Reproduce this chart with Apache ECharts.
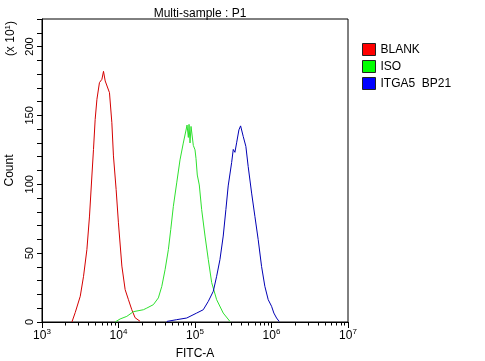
<!DOCTYPE html>
<html><head><meta charset="utf-8">
<script src="https://cdn.jsdelivr.net/npm/echarts@6/dist/echarts.min.js"></script>
<style>html,body{margin:0;padding:0;background:#fff}#c{width:485px;height:361px}</style>
</head><body><div id="c"></div>
<script>
// x values are log10(FITC-A); y values are Count (x10^1)
const blankX = [3.391,3.434,3.500,3.543,3.587,3.621,3.652,3.673,3.695,3.718,3.751,3.783,3.804,3.826,3.882,3.913,3.934,3.969,3.999,4.044,4.087,4.130,4.174,4.217,4.282];
const blankY = [0,6.8,18.7,33.2,52.6,76.9,106,125.3,147.1,161.7,173.8,176.2,182,175,166.5,144.7,120.6,96.2,72,40.6,23.5,16.2,8.9,3.1,0.5];
const isoX = [3.956,4.021,4.109,4.195,4.325,4.370,4.456,4.521,4.566,4.609,4.652,4.683,4.717,4.761,4.804,4.847,4.883,4.896,4.913,4.922,4.935,4.948,4.978,5.000,5.013,5.030,5.056,5.087,5.131,5.174,5.218,5.283,5.369,5.457];
const isoY = [0,2.2,4.1,7.5,8.9,10.1,12.6,17.5,25.9,38,52.6,67.1,84,101,117.7,129.9,139.4,143,134,143.5,130,142,128.2,125,118.8,106.7,99.5,81.7,62.4,45.3,28.6,16.2,6.5,0.4];
const itgaX = [4.631,4.761,4.892,5.022,5.108,5.174,5.239,5.283,5.326,5.369,5.404,5.434,5.479,5.500,5.522,5.544,5.574,5.596,5.630,5.665,5.695,5.740,5.783,5.826,5.870,5.913,5.957,6.001,6.031,6.066,6.100];
const itgaY = [0.4,1.7,2.9,6.5,8.9,15,22.3,33.2,45.3,62.4,81.7,98.8,115.8,125.3,123.2,130.1,139.5,142.4,134.8,127.5,113,93.6,76.7,59.8,40.4,25.9,16.2,11.4,6.5,2.9,0.4];
const seriesNames = ['BLANK','ISO','ITGA5  BP21'];
const decades = [3,4,5,6,7];
const minorMult = [2,3,4,5,6,7,8,9];

const pair = (xs, ys) => xs.map((x, i) => [x, ys[i]]);
const minorTicks = [];
decades.slice(0, -1).forEach(d => minorMult.forEach(m => minorTicks.push([d + Math.log10(m), 0])));

const FONT = 'Liberation Sans, Arial, sans-serif';
const chart = echarts.init(document.getElementById('c'));
chart.setOption({
  animation: false,
  textStyle: { fontFamily: FONT, color: '#000' },
  title: { text: 'Multi-sample : P1', left: 195, top: 3, textAlign: 'center',
    textStyle: { fontFamily: FONT, fontSize: 12, fontWeight: 'normal', color: '#000' } },
  grid: { left: 42, top: 19, right: 137, bottom: 39, containLabel: false, outerBoundsMode: 'none',
    show: true, borderColor: '#000', borderWidth: 1, backgroundColor: 'transparent' },
  legend: {
    orient: 'vertical', left: 357, top: 38, itemWidth: 13, itemHeight: 12, itemGap: 4, icon: 'rect',
    textStyle: { fontFamily: FONT, fontSize: 12, color: '#000' },
    data: [
      { name: seriesNames[0], itemStyle: { color: '#ff0000', borderColor: '#222', borderWidth: 1 } },
      { name: seriesNames[1], itemStyle: { color: '#00ff00', borderColor: '#222', borderWidth: 1 } },
      { name: seriesNames[2], itemStyle: { color: '#0000ff', borderColor: '#222', borderWidth: 1 } }
    ]
  },
  xAxis: {
    type: 'value', min: 3, max: 7, interval: 1,
    name: 'FITC-A', nameLocation: 'middle', nameGap: 26,
    nameTextStyle: { fontFamily: FONT, fontSize: 12, color: '#000' },
    axisLine: { onZero: false, lineStyle: { color: '#000', width: 1 } },
    axisTick: { length: 6, lineStyle: { color: '#000' } },
    splitLine: { show: false },
    axisLabel: { margin: 6, color: '#000', formatter: v => '{b|10}{s|' + v + '}',
      rich: { b: { fontSize: 12, fontFamily: FONT, color: '#000' }, s: { fontSize: 8, fontFamily: FONT, color: '#000', padding: [0,0,8,0] } } }
  },
  yAxis: {
    type: 'value', min: 0, max: 220, interval: 10,
    name: 'Count', nameLocation: 'middle', nameGap: 25, nameRotate: 90,
    nameTextStyle: { fontFamily: FONT, fontSize: 12, color: '#000' },
    axisLine: { show: true, lineStyle: { color: '#000', width: 1 } },
    axisTick: { length: 5, lineStyle: { color: '#000' } },
    splitLine: { show: false },
    axisLabel: { rotate: 90, margin: 7, fontSize: 11, color: '#000', fontFamily: FONT,
      formatter: v => (v % 50 === 0 && v <= 200) ? String(v) : '' }
  },
  graphic: [{
    type: 'text', left: 4, top: 21, rotation: Math.PI / 2,
    style: { text: '(x 10{s|1})', fill: '#000', font: '12px ' + FONT,
      rich: { s: { fontSize: 8, fontFamily: FONT, padding: [0,0,6,0] } } }
  }],
  series: [
    { name: seriesNames[0], type: 'line', data: pair(blankX, blankY), showSymbol: false, lineStyle: { color: '#d40000', width: 1 }, itemStyle: { color: '#d40000' } },
    { name: seriesNames[1], type: 'line', data: pair(isoX, isoY), showSymbol: false, lineStyle: { color: '#2ee02e', width: 1 }, itemStyle: { color: '#2ee02e' } },
    { name: seriesNames[2], type: 'line', data: pair(itgaX, itgaY), showSymbol: false, lineStyle: { color: '#0000b4', width: 1 }, itemStyle: { color: '#0000b4' } },
    { name: 'minor', type: 'custom', silent: true, clip: false, data: minorTicks,
      renderItem: (params, api) => {
        const p = api.coord([api.value(0), 0]);
        const x = Math.round(p[0]) + 0.5;
        return { type: 'line', shape: { x1: x, y1: p[1], x2: x, y2: p[1] + 3.5 }, style: { stroke: '#000', lineWidth: 1 } };
      } }
  ]
});
</script></body></html>
